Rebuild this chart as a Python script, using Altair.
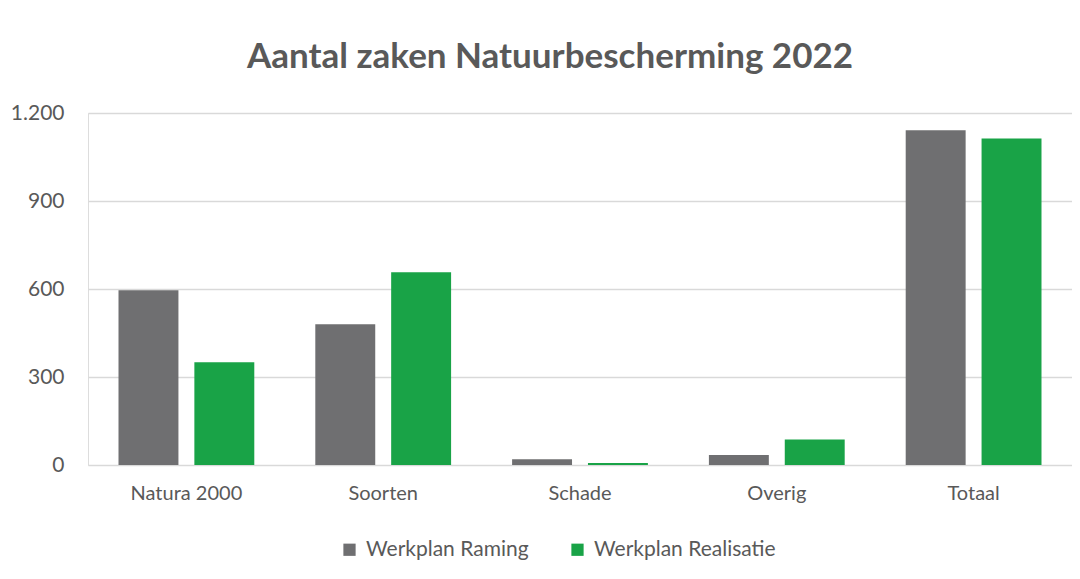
import altair as alt
import pandas as pd

categories = ["Natura 2000", "Soorten", "Schade", "Overig", "Totaal"]
series = ["Werkplan Raming", "Werkplan Realisatie"]
raming = [596, 480, 20, 34, 1141]
realisatie = [350, 657, 7, 87, 1113]

rows = []
for c, r, z in zip(categories, raming, realisatie):
    rows.append({"categorie": c, "reeks": series[0], "aantal": r})
    rows.append({"categorie": c, "reeks": series[1], "aantal": z})
df = pd.DataFrame(rows)

FONT = "Lato"
GREY = "#595959"

bars = alt.Chart(df).mark_bar().encode(
    x=alt.X("categorie:N", sort=categories, title=None,
            scale=alt.Scale(paddingInner=0.31, paddingOuter=0.155),
            axis=alt.Axis(labelAngle=0, ticks=False, domain=False, grid=False,
                          labelPadding=18, labelFontSize=20, labelColor=GREY,
                          labelFont=FONT)),
    xOffset=alt.XOffset("reeks:N", sort=series,
                        scale=alt.Scale(paddingInner=0.21, paddingOuter=0)),
    y=alt.Y("aantal:Q", title=None,
            scale=alt.Scale(domain=[0, 1200], nice=False),
            axis=alt.Axis(values=[0, 300, 600, 900, 1200], ticks=False, domain=False,
                          labelExpr="replace(format(datum.value, ','), ',', '.')",
                          labelPadding=24, labelFontSize=21, labelColor=GREY,
                          labelFont=FONT, gridColor="#d9d9d9", gridWidth=1.3)),
    color=alt.Color("reeks:N", sort=series,
                    scale=alt.Scale(domain=series, range=["#6f6f71", "#19a347"]),
                    legend=alt.Legend(title=None, orient="none", direction="horizontal",
                                      legendX=251, legendY=426,
                                      symbolType="square", symbolSize=150,
                                      symbolStrokeWidth=0, labelFontSize=21,
                                      labelColor=GREY, labelFont=FONT, labelLimit=400,
                                      columnPadding=38, labelOffset=6)),
)

chart = bars.properties(
    width=984,
    height=352,
    title=alt.TitleParams("Aantal zaken Natuurbescherming 2022", font=FONT,
                          fontSize=35, fontWeight="bold", color=GREY,
                          anchor="middle", dx=-30, offset=27),
    autosize=alt.AutoSizeParams(type="none"),
    padding={"left": 80, "top": 105, "right": 0, "bottom": 106},
).configure_view(stroke=None).configure(background="white")

chart.save("out.html", embed_options={"renderer": "svg", "actions": False})
